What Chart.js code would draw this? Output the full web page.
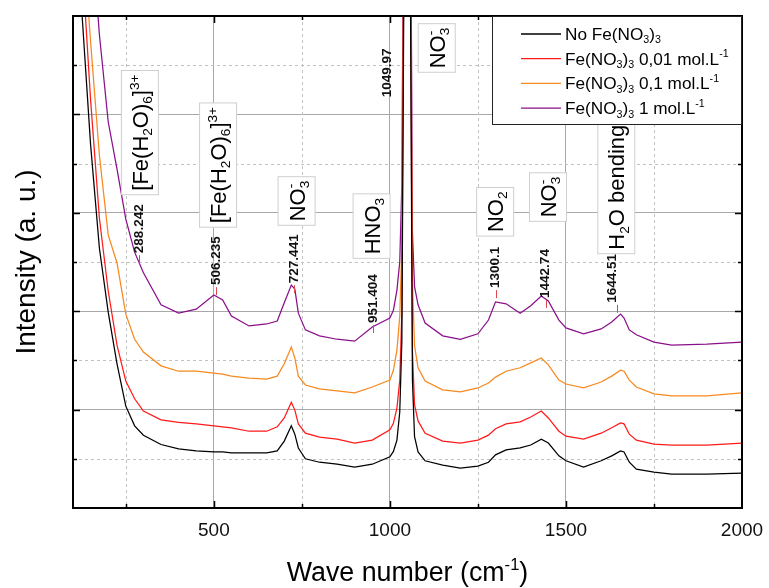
<!DOCTYPE html>
<html>
<head>
<meta charset="utf-8">
<script src="https://cdn.jsdelivr.net/npm/chart.js@4.4.1/dist/chart.umd.min.js"></script>
<style>
	html, body { margin: 0; padding: 0; background: #fff; }
	#wrap { width: 769px; height: 588px; }
</style>
</head>
<body>
<div id="wrap"><canvas id="raman" width="769" height="588"></canvas></div>
<script>
(function() {
	'use strict';

	/* ═══ DATA ═══ */

	var waveNumbers = [
		100, 125, 150, 175, 200, 225, 250, 275, 300, 350,
		400, 450, 500, 525, 550, 600, 650, 680, 700, 720,
		730, 740, 760, 800, 850, 900, 950, 1000, 1010, 1020,
		1028, 1034, 1040, 1050, 1058, 1064, 1070, 1080, 1100, 1150,
		1200, 1250, 1280, 1300, 1330, 1370, 1400, 1430, 1450, 1480,
		1500, 1550, 1600, 1630, 1655, 1665, 1680, 1700, 1750, 1800,
		1900, 2000
	];

	var noFe = [
		14, 10.1, 7.38, 5.28, 3.98, 2.93, 2.07, 1.67, 1.48, 1.29,
		1.20, 1.16, 1.14, 1.14, 1.12, 1.12, 1.12, 1.16, 1.36, 1.67,
		1.50, 1.22, 1.00, 0.93, 0.89, 0.83, 0.89, 1.04, 1.15, 1.38,
		1.95, 3.4, 11, 30, 11, 2.6, 1.45, 1.14, 0.96, 0.87,
		0.81, 0.85, 0.93, 1.08, 1.18, 1.22, 1.28, 1.40, 1.32, 1.06,
		0.96, 0.83, 0.96, 1.06, 1.16, 1.14, 0.93, 0.79, 0.73, 0.69,
		0.69, 0.71
	];

	var fe001 = [
		16, 11.2, 8.29, 5.89, 4.41, 3.31, 2.58, 2.22, 1.97, 1.79,
		1.74, 1.71, 1.67, 1.65, 1.63, 1.56, 1.56, 1.65, 1.83, 2.15,
		1.99, 1.71, 1.52, 1.44, 1.40, 1.32, 1.38, 1.59, 1.72, 2.03,
		2.6, 4.0, 12, 30, 12, 3.2, 2.1, 1.77, 1.52, 1.36,
		1.32, 1.38, 1.48, 1.61, 1.71, 1.75, 1.85, 1.97, 1.83, 1.56,
		1.46, 1.40, 1.52, 1.63, 1.73, 1.71, 1.50, 1.38, 1.30, 1.28,
		1.28, 1.32
	];

	var fe01 = [
		17, 12, 9.47, 7.17, 5.55, 4.98, 3.94, 3.43, 3.17, 2.89,
		2.78, 2.78, 2.74, 2.72, 2.68, 2.64, 2.62, 2.68, 2.93, 3.27,
		3.05, 2.68, 2.50, 2.42, 2.38, 2.34, 2.46, 2.60, 2.80, 3.21,
		3.9, 5.3, 12, 30, 12, 4.6, 3.3, 2.85, 2.58, 2.40,
		2.36, 2.44, 2.54, 2.66, 2.78, 2.85, 2.95, 3.05, 2.91, 2.60,
		2.52, 2.44, 2.56, 2.68, 2.80, 2.78, 2.60, 2.46, 2.32, 2.28,
		2.28, 2.34
	];

	var fe1 = [
		20, 15, 12, 9.62, 7.85, 6.89, 5.87, 5.20, 4.78, 4.13,
		3.96, 4.04, 4.33, 4.23, 3.90, 3.70, 3.74, 3.80, 4.17, 4.53,
		4.45, 3.96, 3.62, 3.50, 3.43, 3.39, 3.68, 3.86, 4.02, 4.43,
		5.0, 6.6, 14, 30, 14, 5.6, 4.5, 4.13, 3.76, 3.50,
		3.43, 3.54, 3.82, 4.19, 4.15, 3.96, 4.11, 4.31, 4.21, 3.82,
		3.66, 3.54, 3.64, 3.78, 3.94, 3.86, 3.62, 3.52, 3.37, 3.31,
		3.33, 3.37
	];

	var xTicks      = [ 250, 500, 750, 1000, 1250, 1500, 1750, 2000 ];
	var xMajor      = [ 500, 1000, 1500 ];
	var xMinor      = [ 250, 750, 1250, 1750 ];
	var xTickLabels = [ 500, 1000, 1500, 2000 ];
	var yTicks      = [ 0, 1, 2, 3, 4, 5, 6, 7, 8, 9, 10 ];
	var yMajor      = [ 2, 4, 6, 8 ];
	var yMinor      = [ 1, 3, 5, 7, 9 ];

	var peakPositions = [ 288.242, 506.235, 727.441, 951.404, 1049.97, 1300.1, 1442.74, 1644.51 ];
	var peakTexts     = [ '288.242', '506.235', '727.441', '951.404', '1049.97', '1300.1', '1442.74', '1644.51' ];

	/* ═══ STYLE ═══ */

	var FONT = '"Liberation Sans", Arial, Helvetica, sans-serif';
	var colors = [ '#000000', '#ff1a1a', '#f7891f', '#8a0f8a' ];

	// label anchors: intensity where each peak label starts, pixel nudge
	var peakLabelPos = [
		{ y: 5.18, dx: 0,   tick: true },
		{ y: 4.53, dx: 0,   tick: true },
		{ y: 4.57, dx: 0,   tick: true },
		{ y: 3.76, dx: 0,   tick: true },
		{ y: 8.35, dx: -20, tick: false },
		{ y: 4.47, dx: 0,   tick: true },
		{ y: 4.27, dx: -1,  tick: true },
		{ y: 4.17, dx: -5,  tick: true }
	];

	var bandLabels = [
		{ x: 290,  y: 7.63, segs: [ { t: '[Fe(H' }, { sub: '2' }, { t: 'O)' }, { sub: '6' }, { t: ']' }, { sup: '3+' } ] },
		{ x: 512,  y: 6.97, segs: [ { t: '[Fe(H' }, { sub: '2' }, { t: 'O)' }, { sub: '6' }, { t: ']' }, { sup: '3+' } ] },
		{ x: 735,  y: 6.24, segs: [ { t: 'NO' }, { sub: '3', sup: '-' } ] },
		{ x: 948,  y: 5.73, segs: [ { t: 'HNO' }, { sub: '3' } ] },
		{ x: 1133, y: 9.35, segs: [ { t: 'NO' }, { sub: '3', sup: '-' } ] },
		{ x: 1299, y: 6.02, segs: [ { t: 'NO' }, { sub: '2' } ] },
		{ x: 1449, y: 6.32, segs: [ { t: 'NO' }, { sub: '3', sup: '-' } ] },
		{ x: 1643, y: 6.52, segs: [ { t: 'H' }, { sub: '2' }, { t: 'O bending' } ] }
	];

	var legendItems = [
		[ { t: 'No Fe(NO' }, { sub: '3' }, { t: ')' }, { sub: '3' } ],
		[ { t: 'Fe(NO' }, { sub: '3' }, { t: ')' }, { sub: '3' }, { t: ' 0,01 mol.L' }, { sup: '-1' } ],
		[ { t: 'Fe(NO' }, { sub: '3' }, { t: ')' }, { sub: '3' }, { t: ' 0,1 mol.L' }, { sup: '-1' } ],
		[ { t: 'Fe(NO' }, { sub: '3' }, { t: ')' }, { sub: '3' }, { t: ' 1 mol.L' }, { sup: '-1' } ]
	];

	/* ═══ RICH TEXT (sub / superscripts) ═══ */

	function fontStr( size, bold ) {
		return ( bold ? 'bold ' : '' ) + size + 'px ' + FONT;
	}

	function segWidth( ctx, s, size ) {
		if ( s.sub || s.sup ) {
			ctx.font = fontStr( size * 0.62 );
			var a = s.sub ? ctx.measureText( s.sub ).width : 0;
			var b = s.sup ? ctx.measureText( s.sup ).width : 0;
			return Math.max( a, b );
		}
		ctx.font = fontStr( size );
		return ctx.measureText( s.t ).width;
	}

	function richWidth( ctx, segs, size ) {
		var w = 0;
		for ( var i = 0; i < segs.length; i++ ) w += segWidth( ctx, segs[i], size );
		return w;
	}

	function drawRich( ctx, segs, x, y, size ) {
		ctx.textAlign = 'left';
		ctx.textBaseline = 'alphabetic';
		for ( var i = 0; i < segs.length; i++ ) {
			var s = segs[i];
			var w = segWidth( ctx, s, size );
			if ( s.sub || s.sup ) {
				ctx.font = fontStr( size * 0.62 );
				if ( s.sub ) ctx.fillText( s.sub, x, y + size * 0.2 );
				if ( s.sup ) ctx.fillText( s.sup, x, y - size * 0.42 );
			} else {
				ctx.font = fontStr( size );
				ctx.fillText( s.t, x, y );
			}
			x += w;
		}
	}

	/* ═══ DECORATION PLUGIN ═══ */

	var decorPlugin = {
		id: 'decor',
		beforeDatasetsDraw: function( chart ) {
			var ctx = chart.ctx, a = chart.chartArea;
			var xs = chart.scales.x, ys = chart.scales.y;
			ctx.save();
			ctx.strokeStyle = '#c2c2c2';
			ctx.lineWidth = 1;
			ctx.setLineDash( [ 3, 3 ] );
			xMinor.forEach( function( v ) {
				var p = Math.round( xs.getPixelForValue( v ) ) + 0.5;
				ctx.beginPath(); ctx.moveTo( p, a.top ); ctx.lineTo( p, a.bottom ); ctx.stroke();
			});
			yMinor.forEach( function( v ) {
				var p = Math.round( ys.getPixelForValue( v ) ) + 0.5;
				ctx.beginPath(); ctx.moveTo( a.left, p ); ctx.lineTo( a.right, p ); ctx.stroke();
			});
			ctx.restore();
		},
		afterDatasetsDraw: function( chart ) {
			var ctx = chart.ctx, a = chart.chartArea;
			var xs = chart.scales.x, ys = chart.scales.y;
			ctx.save();

			// frame + inward ticks
			ctx.strokeStyle = '#000';
			ctx.lineWidth = 1.5;
			function xt( list, len ) {
				list.forEach( function( v ) {
					var p = Math.round( xs.getPixelForValue( v ) ) + 0.5;
					ctx.beginPath();
					ctx.moveTo( p, a.bottom ); ctx.lineTo( p, a.bottom - len );
					ctx.moveTo( p, a.top );    ctx.lineTo( p, a.top + len );
					ctx.stroke();
				});
			}
			function yt( list, len ) {
				list.forEach( function( v ) {
					var p = Math.round( ys.getPixelForValue( v ) ) + 0.5;
					ctx.beginPath();
					ctx.moveTo( a.left, p );  ctx.lineTo( a.left + len, p );
					ctx.moveTo( a.right, p ); ctx.lineTo( a.right - len, p );
					ctx.stroke();
				});
			}
			xt( xMajor, 7 ); xt( xMinor, 4 );
			yt( yMajor, 7 ); yt( yMinor, 4 );
			ctx.lineWidth = 2;
			ctx.strokeRect( a.left, a.top, a.right - a.left, a.bottom - a.top );

			// boxed band labels
			var bs = 22;
			bandLabels.forEach( function( b ) {
				var cx = xs.getPixelForValue( b.x );
				var cy = ys.getPixelForValue( b.y );
				var w  = richWidth( ctx, b.segs, bs );
				ctx.save();
				ctx.translate( cx, cy );
				ctx.rotate( -Math.PI / 2 );
				ctx.fillStyle = '#fff';
				ctx.fillRect( -w / 2 - 4, -18.5, w + 8, 37 );
				ctx.strokeStyle = '#cfcfcf';
				ctx.lineWidth = 1;
				ctx.strokeRect( -w / 2 - 4, -18.5, w + 8, 37 );
				ctx.fillStyle = '#000';
				drawRich( ctx, b.segs, -w / 2, bs * 0.36, bs );
				ctx.restore();
			});

			// peak position labels
			for ( var i = 0; i < peakPositions.length; i++ ) {
				var pos = peakLabelPos[i];
				var tx  = xs.getPixelForValue( peakPositions[i] );
				var py  = ys.getPixelForValue( pos.y );
				ctx.save();
				ctx.fillStyle = '#111';
				ctx.translate( tx + pos.dx, py );
				ctx.rotate( -Math.PI / 2 );
				ctx.font = fontStr( 13.5, true );
				ctx.textAlign = 'left';
				ctx.textBaseline = 'middle';
				ctx.fillText( peakTexts[i], 0, 0 );
				ctx.restore();
				if ( pos.tick ) {
					ctx.strokeStyle = '#e0474c';
					ctx.lineWidth = 1;
					ctx.beginPath();
					ctx.moveTo( Math.round( tx ) + 0.5, py + 2 );
					ctx.lineTo( Math.round( tx ) + 0.5, py + 10 );
					ctx.stroke();
				}
			}

			// legend
			var lw = 250, lh = 108;
			var lx = a.right - lw, ly = a.top;
			ctx.fillStyle = '#fff';
			ctx.fillRect( lx, ly, lw, lh );
			ctx.strokeStyle = '#222';
			ctx.lineWidth = 1;
			ctx.strokeRect( lx + 0.5, ly + 0.5, lw - 1, lh );
			for ( var k = 0; k < legendItems.length; k++ ) {
				var ry = ly + 18 + k * 24.7;
				ctx.strokeStyle = colors[k];
				ctx.lineWidth = 1.3;
				ctx.beginPath();
				ctx.moveTo( lx + 29, ry ); ctx.lineTo( lx + 69, ry );
				ctx.stroke();
				ctx.fillStyle = '#000';
				drawRich( ctx, legendItems[k], lx + 73, ry + 6, 17.2 );
			}

			// axis titles
			ctx.fillStyle = '#000';
			var xt2 = [ { t: 'Wave number (cm' }, { sup: '-1' }, { t: ')' } ];
			var tw = richWidth( ctx, xt2, 26.8 );
			drawRich( ctx, xt2, ( a.left + a.right ) / 2 - tw / 2, 581, 26.8 );

			ctx.save();
			ctx.translate( 27, ( a.top + a.bottom ) / 2 );
			ctx.rotate( -Math.PI / 2 );
			ctx.font = fontStr( 28 );
			ctx.textAlign = 'center';
			ctx.textBaseline = 'middle';
			ctx.fillText( 'Intensity (a. u.)', 0, 0 );
			ctx.restore();

			ctx.restore();
		}
	};

	/* ═══ CHART ═══ */

	function makeDataset( label, values, color ) {
		return {
			label: label,
			data: waveNumbers.map( function( w, i ) { return { x: w, y: values[i] }; } ),
			borderColor: color,
			backgroundColor: color,
			borderWidth: 1.25,
			pointRadius: 0,
			tension: 0,
			fill: false
		};
	}

	new Chart( document.getElementById( 'raman' ).getContext( '2d' ), {
		type: 'line',
		data: {
			datasets: [
				makeDataset( 'No Fe(NO3)3', noFe, colors[0] ),
				makeDataset( 'Fe(NO3)3 0,01 mol.L-1', fe001, colors[1] ),
				makeDataset( 'Fe(NO3)3 0,1 mol.L-1', fe01, colors[2] ),
				makeDataset( 'Fe(NO3)3 1 mol.L-1', fe1, colors[3] )
			]
		},
		options: {
			responsive: false,
			devicePixelRatio: 1,
			animation: false,
			layout: { padding: { left: 0, right: 27, top: 16, bottom: 0 } },
			plugins: {
				legend: { display: false },
				tooltip: { enabled: false }
			},
			scales: {
				x: {
					type: 'linear',
					min: 100,
					max: 2000,
					afterBuildTicks: function( s ) {
						s.ticks = xTicks.map( function( v ) { return { value: v }; } );
					},
					afterFit: function( s ) {
						s.height = 80;
						s.paddingLeft = 0;
						s.paddingRight = 0;
					},
					ticks: {
						autoSkip: false,
						maxRotation: 0,
						minRotation: 0,
						padding: 11,
						color: '#111',
						font: { family: FONT, size: 19 },
						callback: function( v ) { return xTickLabels.indexOf( v ) >= 0 ? String( v ) : ''; }
					},
					grid: {
						drawTicks: false,
						lineWidth: 1,
						color: function( c ) {
							return ( c.tick && xMajor.indexOf( c.tick.value ) >= 0 ) ? '#a8a8a8' : 'rgba(0,0,0,0)';
						}
					},
					border: { display: false }
				},
				y: {
					min: 0,
					max: 10,
					afterBuildTicks: function( s ) {
						s.ticks = yTicks.map( function( v ) { return { value: v }; } );
					},
					afterFit: function( s ) {
						s.width = 73;
						s.paddingTop = 0;
						s.paddingBottom = 0;
					},
					ticks: { display: false },
					grid: {
						drawTicks: false,
						lineWidth: 1,
						color: function( c ) {
							return ( c.tick && yMajor.indexOf( c.tick.value ) >= 0 ) ? '#a8a8a8' : 'rgba(0,0,0,0)';
						}
					},
					border: { display: false }
				}
			}
		},
		plugins: [ decorPlugin ]
	});

})();
</script>
</body>
</html>
